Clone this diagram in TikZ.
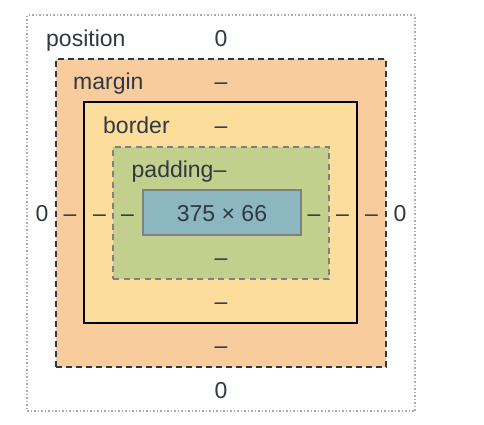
\documentclass[tikz,border=0pt]{standalone}
\usepackage{fontspec}
\setmainfont{Liberation Sans}
\usetikzlibrary{positioning}

\definecolor{txtgray}{HTML}{303841}
\definecolor{marginfill}{HTML}{F9CC9D}
\definecolor{borderfill}{HTML}{FDDD9B}
\definecolor{paddingfill}{HTML}{C3CF8D}
\definecolor{contentfill}{HTML}{8CB6C0}
\definecolor{edgegray}{HTML}{808080}
\definecolor{dotgray}{HTML}{ABABAB}

\begin{document}
\begin{tikzpicture}[
  x=1pt, y=-1pt,
  layer/.style   = {rectangle, inner sep=0pt, outer sep=0pt},
  posbox/.style  = {layer, draw=dotgray, line width=1.5pt, dash pattern=on 1.5pt off 2pt},
  marbox/.style  = {layer, draw=txtgray, fill=marginfill, line width=1.5pt, dash pattern=on 6pt off 4pt},
  borbox/.style  = {layer, draw=black, fill=borderfill, line width=2pt},
  padbox/.style  = {layer, draw=edgegray, fill=paddingfill, line width=1.5pt, dash pattern=on 6pt off 4.5pt},
  conbox/.style  = {layer, draw=edgegray, fill=contentfill, line width=2pt},
  valtext/.style = {inner sep=0pt, text=txtgray, font=\fontsize{23}{27}\selectfont, anchor=base},
  boxname/.style = {valtext, anchor=base west},
]
  \useasboundingbox (0,0) rectangle (484,424);

  % nested boxes
  \node[posbox, minimum width=388pt, minimum height=396pt] (pos) at (221,213)   {};
  \node[marbox, minimum width=330pt, minimum height=308pt] (mar) at (221.2,212.8) {};
  \node[borbox, minimum width=273pt, minimum height=221pt] (bor) at (220.5,212.5) {};
  \node[padbox, minimum width=216pt, minimum height=132pt] (pad) at (221,213.2) {};
  \node[conbox, minimum width=158pt, minimum height=45pt]  (con) at (222,212.8) {};

  % box names
  \node[boxname] (posname) at (46,46)     {position};
  \node[boxname] (marname) at (73,89)     {margin};
  \node[boxname] (borname) at (103,133)   {border};
  \node[boxname] (padname) at (131.5,177) {padding\textendash};

  % top values
  \node[valtext] (postop) at (221,46)  {0};
  \node[valtext] (martop) at (221,89)  {\textendash};
  \node[valtext] (bortop) at (221,133) {\textendash};

  % middle row
  \node[valtext] (posleft)  at (42,221)    {0};
  \node[valtext] (marleft)  at (70,221)    {\textendash};
  \node[valtext] (borleft)  at (99.5,221)  {\textendash};
  \node[valtext] (padleft)  at (127.5,221) {\textendash};
  \node[valtext] (size)     at (222,221)   {375 × 66};
  \node[valtext] (padright) at (314,221)   {\textendash};
  \node[valtext] (borright) at (342.5,221) {\textendash};
  \node[valtext] (marright) at (371.5,221) {\textendash};
  \node[valtext] (posright) at (400,221)   {0};

  % bottom values
  \node[valtext] (padbot) at (221,265)   {\textendash};
  \node[valtext] (borbot) at (221,309.5) {\textendash};
  \node[valtext] (marbot) at (221,353.5) {\textendash};
  \node[valtext] (posbot) at (221,398.5) {0};
\end{tikzpicture}
\end{document}
